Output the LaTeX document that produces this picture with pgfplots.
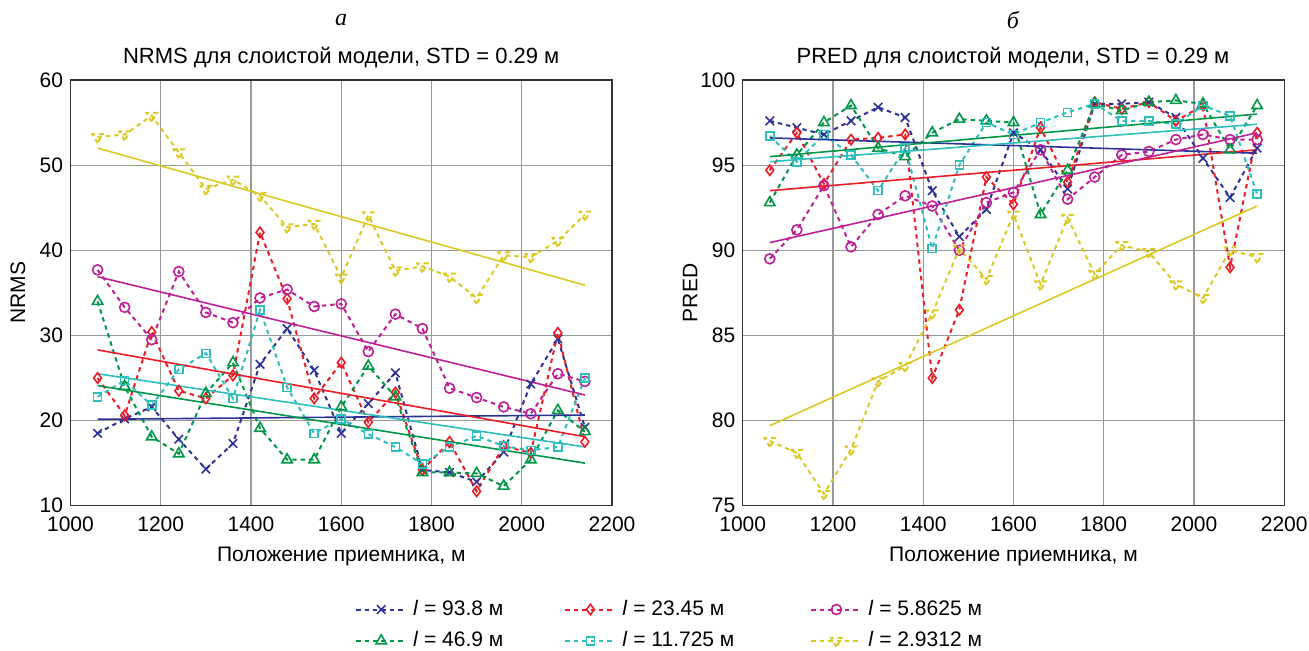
\documentclass[border=0pt]{standalone}
\usepackage{pgfplots}
\pgfplotsset{compat=1.18}
\usepackage{pgfplotstable}
\usepackage{fontspec}
\setmainfont{Liberation Sans}
\newfontfamily\cyrserif{Liberation Serif}

\definecolor{cB}{RGB}{45,50,150}
\definecolor{cR}{RGB}{237,28,36}
\definecolor{cM}{RGB}{190,30,150}
\definecolor{cG}{RGB}{0,150,70}
\definecolor{cC}{RGB}{45,190,190}
\definecolor{cY}{RGB}{220,200,35}

% NRMS, left panel
\pgfplotstableread{
x b r m g c y
1060 18.5 25.0 37.7 34.0 22.8 53.3
1120 20.2 20.6 33.3 24.0 24.7 53.6
1180 21.6 30.4 29.5 18.1 21.8 55.8
1240 17.8 23.5 37.5 16.1 26.0 51.5
1300 14.3 22.6 32.7 23.2 27.9 47.2
1360 17.3 25.3 31.5 26.8 22.6 48.3
1420 26.6 42.1 34.4 19.1 33.0 46.4
1480 30.8 34.3 35.4 15.4 23.9 42.7
1540 25.9 22.6 33.4 15.4 18.5 43.1
1600 18.5 26.8 33.7 21.6 20.2 36.8
1660 22.0 19.8 28.1 26.4 18.4 44.1
1720 25.6 23.3 32.5 22.8 16.9 37.6
1780 14.2 14.2 30.8 13.9 14.9 38.1
1840 13.9 17.5 23.8 13.9 16.9 36.9
1900 12.8 11.7 22.7 13.8 18.2 34.4
1960 16.3 17.0 21.6 12.3 17.0 39.4
2020 24.3 16.2 20.8 15.4 16.5 39.2
2080 29.6 30.3 25.5 21.2 16.9 41.1
2140 19.2 17.5 24.6 18.7 25.0 44.2
}\nrms
\pgfplotstableread{
x b r m g c y
1060 20.15 28.3 36.9 24.1 25.5 52.0
2140 20.65 18.1 23.0 15.0 16.9 35.9
}\nrmsfit

% PRED, right panel
\pgfplotstableread{
x b r m g c y
1060 97.6 94.7 89.5 92.8 96.7 78.8
1120 97.2 96.9 91.2 95.6 95.2 78.1
1180 96.8 93.9 93.8 97.5 96.8 75.7
1240 97.6 96.5 90.2 98.5 95.6 78.3
1300 98.4 96.6 92.1 96.0 93.5 82.3
1360 97.8 96.8 93.2 95.5 96.0 83.2
1420 93.5 82.5 92.6 96.9 90.1 86.3
1480 90.8 86.5 90.0 97.7 95.0 90.1
1540 92.4 94.3 92.8 97.6 97.5 88.3
1600 96.9 92.7 93.4 97.5 96.8 92.1
1660 95.9 97.2 95.9 92.1 97.5 88.0
1720 93.6 94.0 93.0 94.7 98.1 91.9
1780 98.6 98.7 94.3 98.6 98.6 88.6
1840 98.6 98.3 95.6 98.2 97.6 90.3
1900 98.7 98.7 95.8 98.7 97.6 89.9
1960 97.8 97.6 96.5 98.8 97.4 88.0
2020 95.4 98.5 96.8 98.6 98.5 87.2
2080 93.1 89.0 96.5 95.9 97.9 90.0
2140 96.0 96.9 96.5 98.5 93.3 89.6
}\pred
\pgfplotstableread{
x b r m g c y
1060 96.6 93.5 90.45 95.5 95.2 79.7
2140 95.7 95.9 96.9 98.0 97.4 92.6
}\predfit

\pgfplotsset{
  panel/.style={
    scale only axis, width=270.75pt, height=212.85pt,
    xmin=1000, xmax=2200, xtick={1000,1200,...,2200},
    grid=major, grid style={black!40, line width=0.6pt},
    axis line style={black!80, line width=0.7pt},
    major tick length=0pt,
    tick label style={font=\fontsize{10.5}{12}\selectfont},
    xticklabel style={yshift=-2pt},
    label style={font=\fontsize{10.5}{12}\selectfont},
    /pgf/number format/assume math mode=true,
    /pgf/number format/1000 sep={},
    xlabel={Положение приемника, м},
    every axis x label/.style={at={(axis description cs:0.5,-0.12)}, anchor=center},
    every axis y label/.style={at={(axis description cs:-0.097,0.5)}, rotate=90, anchor=center},
    clip=false,
  },
  ser/.style={color=#1, line width=1pt, dash pattern=on 2.2pt off 2pt, mark options={solid, line width=0.8pt}},
  fit/.style={color=#1, line width=0.8pt, forget plot},
}

\begin{document}
\fontsize{10.5}{12.6}\selectfont
\begin{tikzpicture}
\path[use as bounding box] (0,0) rectangle (654.5pt,-325.5pt);

\begin{axis}[panel, at={(35.25pt,-252.85pt)}, anchor=south west,
  ymin=10, ymax=60, ytick={10,20,...,60}, ylabel={NRMS},
  legend columns=3,
  legend style={at={(axis description cs:0.525,-0.212)}, anchor=north west, draw=none, fill=none,
    font=\fontsize{10.5}{12}\selectfont, inner sep=0pt,
    /tikz/every odd column/.append style={column sep=1pt},
    /tikz/column 2/.style={column sep=28.5pt},
    /tikz/column 4/.style={column sep=36pt},
    row sep=2.5pt},
  legend cell align=left,
  legend image code/.code={\draw[mark repeat=2, mark phase=2] plot coordinates {(0pt,0pt) (12.5pt,0pt) (25pt,0pt)};},
  ]
\addplot[ser=cB, mark=x, mark size=3pt] table[x=x, y=b] {\nrms};
\addlegendentry{\textit{l} = 93.8 м}
\addplot[ser=cR, mark=diamond, mark size=2.6pt] table[x=x, y=r] {\nrms};
\addlegendentry{\textit{l} = 23.45 м}
\addplot[ser=cM, mark=o, mark size=2.5pt] table[x=x, y=m] {\nrms};
\addlegendentry{\textit{l} = 5.8625 м}
\addplot[ser=cG, mark=triangle, mark size=3pt] table[x=x, y=g] {\nrms};
\addlegendentry{\textit{l} = 46.9 м}
\addplot[ser=cC, mark=square, mark size=2pt] table[x=x, y=c] {\nrms};
\addlegendentry{\textit{l} = 11.725 м}
\addplot[ser=cY, mark=triangle, mark size=3pt, mark options={rotate=180}] table[x=x, y=y] {\nrms};
\addlegendentry{\textit{l} = 2.9312 м}
\addplot[fit=cB] table[x=x, y=b] {\nrmsfit};
\addplot[fit=cR] table[x=x, y=r] {\nrmsfit};
\addplot[fit=cM] table[x=x, y=m] {\nrmsfit};
\addplot[fit=cG] table[x=x, y=g] {\nrmsfit};
\addplot[fit=cC] table[x=x, y=c] {\nrmsfit};
\addplot[fit=cY] table[x=x, y=y] {\nrmsfit};
\end{axis}

\begin{axis}[panel, at={(371.35pt,-252.85pt)}, anchor=south west,
  ymin=75, ymax=100, ytick={75,80,...,100}, ylabel={PRED}]
\addplot[ser=cB, mark=x, mark size=3pt] table[x=x, y=b] {\pred};
\addplot[ser=cR, mark=diamond, mark size=2.6pt] table[x=x, y=r] {\pred};
\addplot[ser=cM, mark=o, mark size=2.5pt] table[x=x, y=m] {\pred};
\addplot[ser=cG, mark=triangle, mark size=3pt] table[x=x, y=g] {\pred};
\addplot[ser=cC, mark=square, mark size=2pt] table[x=x, y=c] {\pred};
\addplot[ser=cY, mark=triangle, mark size=3pt, mark options={rotate=180}] table[x=x, y=y] {\pred};
\addplot[fit=cB] table[x=x, y=b] {\predfit};
\addplot[fit=cR] table[x=x, y=r] {\predfit};
\addplot[fit=cM] table[x=x, y=m] {\predfit};
\addplot[fit=cG] table[x=x, y=g] {\predfit};
\addplot[fit=cC] table[x=x, y=c] {\predfit};
\addplot[fit=cY] table[x=x, y=y] {\predfit};
\end{axis}

\node[font=\fontsize{11}{13}\selectfont] at (170.6pt,-29pt) {NRMS для слоистой модели, STD = 0.29 м};
\node[font=\fontsize{11}{13}\selectfont] at (506.5pt,-29pt) {PRED для слоистой модели, STD = 0.29 м};
\node[font=\cyrserif\itshape\fontsize{12}{14}\selectfont] at (170.6pt,-10pt) {а};
\node[font=\cyrserif\itshape\fontsize{12}{14}\selectfont] at (506.5pt,-10pt) {б};
\end{tikzpicture}
\end{document}
